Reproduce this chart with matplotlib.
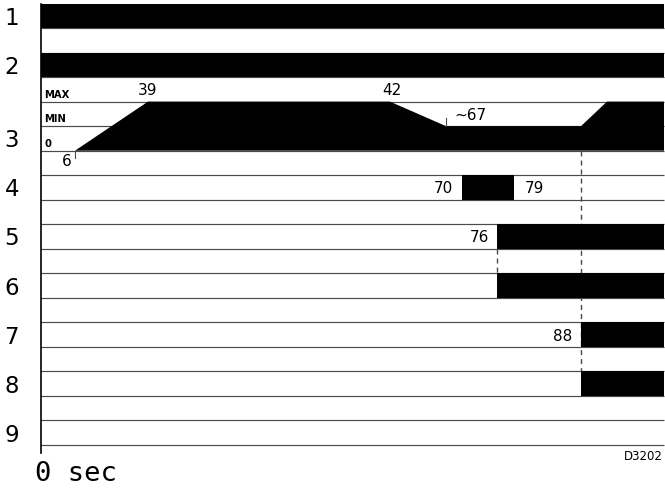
import numpy as np
import matplotlib
matplotlib.use('Agg')
import matplotlib.pyplot as plt

# ----------------------------------------------------------------------------
# Data (times in seconds)

signal_names = ['1', '2', '3', '4', '5', '6', '7', '8', '9']
t_end = 100

# digital signals: intervals where the signal is on
sig1_on = [(0, 100)]
sig2_on = [(0, 100)]
sig4_on = [(70, 79)]
sig5_on = [(76, 100)]
sig6_on = [(76, 100)]
sig7_on = [(88, 100)]
sig8_on = [(88, 100)]
sig9_on = []

# analog signal 3, level 0 -> MIN -> MAX
level_names = ['0', 'MIN', 'MAX']
sig3_t = [6, 39, 42, 67, 88, 92, 100]
sig3_level = [0, 2, 2, 1, 1, 2, 2]

# time annotations
mark_times = [6, 39, 42, 67, 70, 79, 76, 88]
mark_texts = ['6', '39', '42', '~67', '70', '79', '76', '88']

# ----------------------------------------------------------------------------
# Layout (schematic, not to scale: piecewise time axis)

time_knots = [0, 6, 39, 42, 67, 70, 76, 79, 88, 92, 100]
px_knots = [41, 75, 148, 390, 446, 462, 497, 514, 581, 607, 664]

def fwd(t):
   return np.interp(t, time_knots, px_knots)

def inv(p):
   return np.interp(p, px_knots, time_knots)

W, H = 665, 488
fig = plt.figure(figsize=(W/100, H/100), dpi=100)
y_top, y_bot = 3.5, 445
ax = fig.add_axes([41/W, (H - y_bot)/H, 623/W, (y_bot - y_top)/H])
ax.set_xscale('function', functions=(fwd, inv))
ax.set_xlim(0, t_end)
ax.set_ylim(18, 0)
ax.axis('off')

grey = '#4a4a4a'
font = 'DejaVu Sans'

# row lines
for k in range(1, 19):
   ax.plot([0, t_end], [k, k], color=grey, lw=0.85, zorder=1,
           solid_capstyle='butt', clip_on=False)

# digital signals: (intervals, top row)
digital = [(sig1_on, 0), (sig2_on, 2), (sig4_on, 7), (sig5_on, 9),
           (sig6_on, 11), (sig7_on, 13), (sig8_on, 15), (sig9_on, 17)]
for on, row in digital:
   if on:
      ax.broken_barh([(a, b - a) for a, b in on], (row, 1),
                     facecolor='black', edgecolor='none', zorder=2)

# analog signal 3 (rows 4..6, 0 at bottom)
base3 = 6
ax.fill_between(sig3_t, [base3 - v for v in sig3_level], base3,
                facecolor='black', edgecolor='none', zorder=2)
for i, name in enumerate(level_names):
   ax.annotate(name, xy=(0, base3 - i - 0.28), xytext=(2.2, 0),
               textcoords='offset points', fontsize=7.2, fontweight='bold',
               family=font, va='center', ha='left', zorder=3)

# ticks at 6 and 67
ax.plot([6, 6], [6, 6.3], color=grey, lw=0.8, zorder=3)
ax.plot([67, 67], [4.65, 5], color=grey, lw=0.8, zorder=3)

# dashed guides
dash = (0, (3.6, 2.9))
ax.plot([88, 88], [6, 15], color=grey, lw=1.0, linestyle=dash, zorder=1)
ax.plot([76, 76], [10, 11], color=grey, lw=1.0, linestyle=dash, zorder=1)

# left axis
ax.plot([0, 0], [0, 18.33], color='black', lw=1.2, clip_on=False, zorder=4)

# time labels: (y row, ha, offset px)
mark_pos = {
   '6':   (6.45, 'right', -3),
   '39':  (3.55, 'center', 0),
   '42':  (3.55, 'center', 2),
   '~67': (4.55, 'left', 8),
   '70':  (7.53, 'right', -9),
   '79':  (7.53, 'left', 11),
   '76':  (9.53, 'right', -8),
   '88':  (13.56, 'right', -9),
}
for t, s in zip(mark_times, mark_texts):
   y, ha, dx = mark_pos[s]
   ax.annotate(s, xy=(t, y), xytext=(dx*0.72, 0), textcoords='offset points',
               fontsize=11, family=font, ha=ha, va='center', zorder=3)

# signal names on the left
name_rows = [0.6, 2.6, 5.6, 7.6, 9.6, 11.6, 13.6, 15.6, 17.6]
for name, y in zip(signal_names, name_rows):
   ax.annotate(name, xy=(0, y), xycoords=('axes fraction', 'data'),
               xytext=(-21, 0), textcoords='offset points',
               fontsize=16.5, family=font, ha='center', va='center')

ax.annotate('0 sec', xy=(0, 18), xycoords=('axes fraction', 'data'),
            xytext=(-4, -21), textcoords='offset points',
            fontsize=19.5, family='DejaVu Sans Mono', ha='left', va='center')
ax.annotate('D3202', xy=(1, 18), xycoords=('axes fraction', 'data'),
            xytext=(-1, -8), textcoords='offset points',
            fontsize=8.5, family=font, ha='right', va='center')

fig.savefig('out.png', dpi=100)
